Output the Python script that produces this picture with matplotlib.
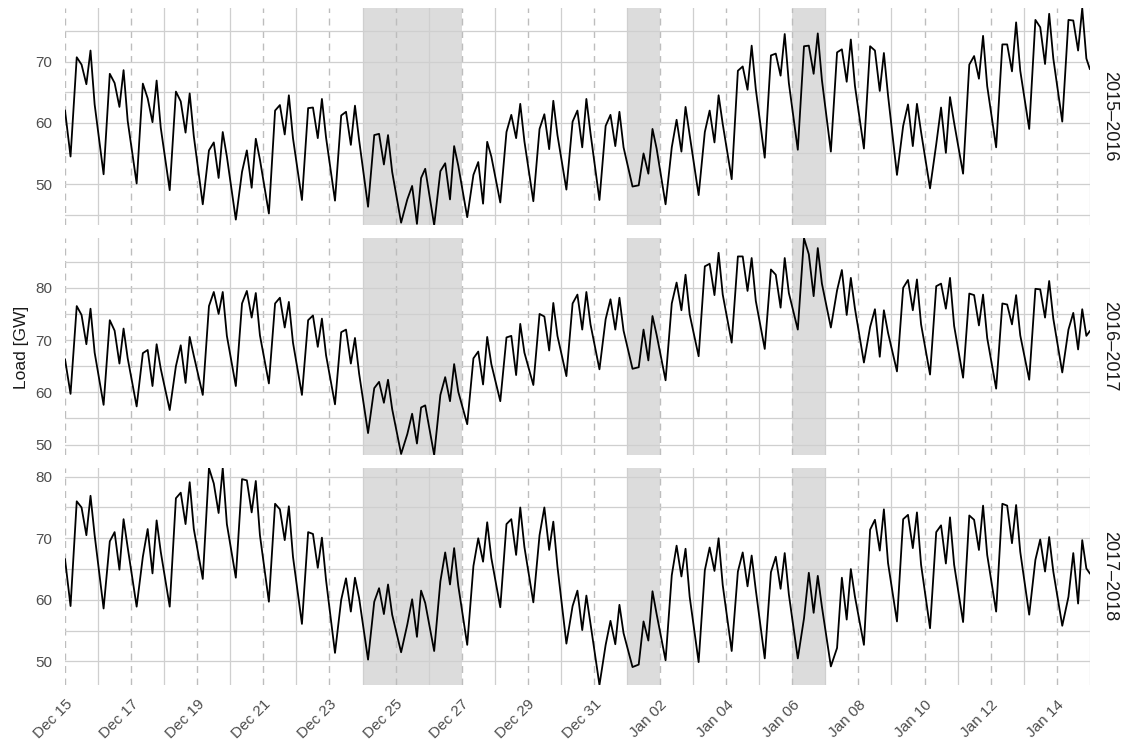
import numpy as np
import pandas as pd
import matplotlib
matplotlib.use('Agg')
import matplotlib.pyplot as plt
import matplotlib.dates as mdates
import matplotlib.ticker as mticker

plt.rcParams['font.family'] = ['Liberation Sans', 'DejaVu Sans']

HOURS = [4, 8.5, 12, 15.5, 18.5, 21.5]
seasons = ['2015–2016', '2016–2017', '2017–2018']
start_vals = [62.0, 66.3, 66.6]
end_vals = [68.8, 71.7, 64.3]

load_1516 = [
    [54.5, 70.7, 69.5, 66.3, 71.8, 63.0],
    [51.6, 68.0, 66.5, 62.6, 68.6, 60.3],
    [50.1, 66.4, 64.0, 60.1, 66.9, 59.2],
    [49.0, 65.1, 63.5, 58.4, 64.8, 57.8],
    [46.7, 55.5, 56.8, 51.0, 58.5, 54.5],
    [44.2, 52.0, 55.5, 49.4, 57.4, 54.0],
    [45.2, 62.0, 62.9, 58.1, 64.5, 57.5],
    [47.4, 62.4, 62.5, 57.5, 63.9, 57.6],
    [47.3, 61.2, 61.8, 56.4, 62.8, 57.2],
    [46.3, 58.0, 58.2, 53.2, 58.0, 52.0],
    [43.7, 47.5, 49.7, 43.5, 51.0, 52.5],
    [43.3, 52.1, 53.4, 47.5, 56.2, 53.0],
    [44.6, 51.5, 53.6, 46.8, 56.9, 54.5],
    [47.0, 58.5, 61.3, 57.5, 63.1, 57.0],
    [47.2, 59.0, 61.4, 55.7, 63.6, 58.0],
    [49.1, 60.2, 62.0, 56.0, 63.9, 58.3],
    [47.4, 59.5, 61.3, 56.2, 61.8, 56.0],
    [49.6, 49.8, 55.0, 51.7, 59.0, 55.8],
    [46.7, 56.0, 60.5, 55.3, 62.6, 58.0],
    [48.2, 58.5, 62.0, 56.8, 64.5, 59.8],
    [50.8, 68.5, 69.2, 65.4, 72.6, 65.5],
    [54.3, 71.0, 71.3, 67.7, 74.5, 66.5],
    [55.6, 72.5, 72.6, 68.0, 74.6, 67.0],
    [55.3, 71.5, 72.0, 66.7, 73.6, 66.0],
    [55.8, 72.5, 71.8, 65.2, 71.4, 64.5],
    [51.5, 59.5, 63.0, 56.2, 63.1, 58.5],
    [49.3, 56.5, 62.5, 55.1, 64.2, 60.0],
    [51.7, 69.5, 70.9, 67.2, 74.2, 66.0],
    [56.0, 72.8, 72.8, 68.4, 76.4, 68.5],
    [59.0, 76.8, 75.6, 69.6, 77.8, 70.5],
    [60.2, 76.8, 76.7, 71.8, 78.7, 70.5],
]

load_1617 = [
    [59.7, 76.5, 74.8, 69.2, 76.0, 67.6],
    [57.6, 73.8, 71.8, 65.5, 72.2, 66.5],
    [57.3, 67.5, 68.1, 61.2, 69.2, 64.5],
    [56.6, 65.0, 69.0, 61.8, 70.6, 67.0],
    [59.5, 76.5, 79.2, 75.0, 79.2, 70.8],
    [61.2, 77.0, 79.4, 74.3, 79.0, 70.9],
    [61.7, 77.0, 78.1, 72.4, 77.3, 69.5],
    [59.5, 73.8, 74.7, 68.7, 74.1, 67.1],
    [57.7, 71.5, 72.0, 65.5, 70.4, 63.6],
    [52.2, 60.8, 62.0, 58.0, 62.4, 56.8],
    [48.2, 52.0, 55.9, 50.2, 57.1, 57.5],
    [48.0, 59.5, 62.9, 58.3, 65.4, 60.1],
    [53.9, 66.5, 67.8, 61.5, 70.6, 65.4],
    [58.3, 70.5, 70.8, 63.3, 73.1, 67.6],
    [61.4, 75.0, 74.5, 68.0, 77.1, 70.8],
    [63.1, 77.0, 78.7, 72.0, 79.2, 73.0],
    [64.4, 74.0, 77.8, 72.0, 78.1, 71.8],
    [64.5, 64.8, 72.0, 66.1, 74.6, 71.0],
    [62.3, 77.0, 81.0, 75.7, 82.5, 74.9],
    [66.9, 84.1, 84.6, 78.6, 86.7, 78.7],
    [69.5, 86.0, 86.0, 79.4, 85.7, 77.5],
    [68.3, 83.5, 82.5, 76.2, 85.7, 79.0],
    [72.0, 89.5, 86.4, 78.4, 87.6, 80.8],
    [72.4, 79.5, 83.4, 74.8, 81.9, 76.0],
    [65.7, 72.5, 75.9, 66.8, 75.7, 71.4],
    [64.0, 80.0, 81.5, 75.7, 81.6, 73.0],
    [63.4, 80.3, 80.8, 76.0, 81.9, 72.7],
    [62.8, 78.9, 78.6, 72.8, 78.7, 70.4],
    [60.7, 77.0, 76.8, 73.0, 78.6, 70.9],
    [62.4, 79.8, 79.7, 74.3, 81.3, 74.1],
    [63.8, 72.0, 75.2, 68.2, 75.9, 70.8],
]

load_1718 = [
    [59.0, 76.0, 75.0, 70.5, 76.9, 70.5],
    [58.6, 69.5, 71.0, 64.9, 73.1, 68.5],
    [58.9, 67.0, 71.5, 64.3, 72.9, 67.8],
    [58.9, 76.5, 77.4, 72.3, 79.1, 71.5],
    [63.4, 81.4, 78.9, 74.1, 81.4, 72.3],
    [63.6, 79.6, 79.4, 74.2, 79.3, 70.5],
    [59.7, 75.6, 74.7, 69.7, 75.2, 67.0],
    [56.1, 71.0, 70.7, 65.2, 70.1, 63.2],
    [51.4, 60.0, 63.5, 58.1, 63.6, 60.3],
    [50.3, 59.7, 61.9, 57.7, 62.5, 57.6],
    [51.5, 56.0, 60.1, 54.0, 61.5, 59.5],
    [51.7, 63.0, 67.7, 62.5, 68.4, 62.3],
    [52.7, 65.5, 70.0, 66.2, 72.6, 66.8],
    [58.8, 72.3, 73.1, 67.3, 75.0, 68.6],
    [59.6, 70.5, 75.0, 68.1, 72.7, 65.4],
    [52.9, 59.0, 61.5, 55.1, 60.7, 56.1],
    [46.2, 52.7, 56.6, 52.8, 59.2, 54.6],
    [49.1, 49.5, 56.5, 53.4, 61.4, 57.7],
    [50.2, 64.0, 68.8, 63.8, 68.3, 60.5],
    [49.9, 64.8, 68.5, 64.7, 70.0, 62.4],
    [51.7, 64.6, 67.7, 62.2, 67.2, 61.6],
    [50.5, 64.5, 67.0, 61.8, 67.6, 60.9],
    [50.5, 57.0, 64.4, 57.9, 63.9, 58.9],
    [49.2, 52.2, 63.6, 56.8, 65.0, 60.5],
    [52.7, 71.4, 73.0, 68.0, 74.7, 66.0],
    [56.5, 73.1, 73.8, 68.4, 74.2, 65.7],
    [55.4, 71.0, 72.1, 65.9, 73.4, 65.7],
    [56.4, 73.7, 73.0, 68.1, 75.3, 67.3],
    [58.1, 75.6, 75.3, 69.2, 75.4, 67.8],
    [57.6, 66.5, 69.8, 64.6, 70.2, 64.6],
    [55.8, 60.5, 67.6, 59.4, 69.7, 65.1],
]

all_loads = [load_1516, load_1617, load_1718]

# Feiertage (grau hinterlegt)
holidays = [('2015-12-24', '2015-12-27'), ('2016-01-01', '2016-01-02'), ('2016-01-06', '2016-01-07')]

t0 = pd.Timestamp('2015-12-15')
t1 = pd.Timestamp('2016-01-15')
hours = [0] + [d * 24 + h for d in range(31) for h in HOURS] + [31 * 24]
x = t0 + pd.to_timedelta(hours, unit='h')

major_days = pd.date_range('2015-12-15', '2016-01-14', freq='2D')
minor_days = pd.date_range('2015-12-16', '2016-01-15', freq='2D')

fig, axes = plt.subplots(3, 1, sharex=True)
fig.set_size_inches(11.27, 7.51)
fig.subplots_adjust(left=0.0577, right=0.967, top=0.989, bottom=0.088, hspace=0.06)

for ax, season, rows, s, e in zip(axes, seasons, all_loads, start_vals, end_vals):
    y = [s] + [v for row in rows for v in row] + [e]
    for a, b in holidays:
        ax.axvspan(pd.Timestamp(a), pd.Timestamp(b), color='#dcdcdc', lw=0, zorder=1)
    ax.plot(x, y, color='black', lw=1.3, zorder=3)
    ax.set_xlim(t0, t1)
    ax.set_ylim(min(y), max(y))
    ax.set_axisbelow('line')
    ax.yaxis.set_major_locator(mticker.MultipleLocator(10))
    ax.yaxis.set_minor_locator(mticker.MultipleLocator(5))
    ax.xaxis.set_major_locator(mticker.FixedLocator(mdates.date2num(major_days)))
    ax.xaxis.set_minor_locator(mticker.FixedLocator(mdates.date2num(minor_days)))
    ax.xaxis.set_major_formatter(mdates.DateFormatter('%b %d'))
    ax.grid(which='both', axis='y', color='#cfcfcf', lw=0.9)
    ax.grid(which='minor', axis='x', color='#cfcfcf', lw=0.9)
    ax.grid(which='major', axis='x', color='#bdbdbd', lw=1.0, ls=(0, (5, 4)))
    for sp in ax.spines.values():
        sp.set_visible(False)
    ax.tick_params(which='both', length=0, labelsize=11, colors='#4d4d4d', pad=9)
    ax.text(1.0195, 0.5, season, transform=ax.transAxes, rotation=270,
            ha='center', va='center', fontsize=13, color='#1a1a1a')

axes[-1].tick_params(axis='x', pad=9)
plt.setp(axes[-1].get_xticklabels(), rotation=45, ha='right', va='top', rotation_mode='anchor')
fig.text(0.0195, 0.538, 'Load [GW]', rotation=90, ha='center', va='center', fontsize=12.5, color='#1a1a1a')

fig.savefig('out.png', dpi=100)
